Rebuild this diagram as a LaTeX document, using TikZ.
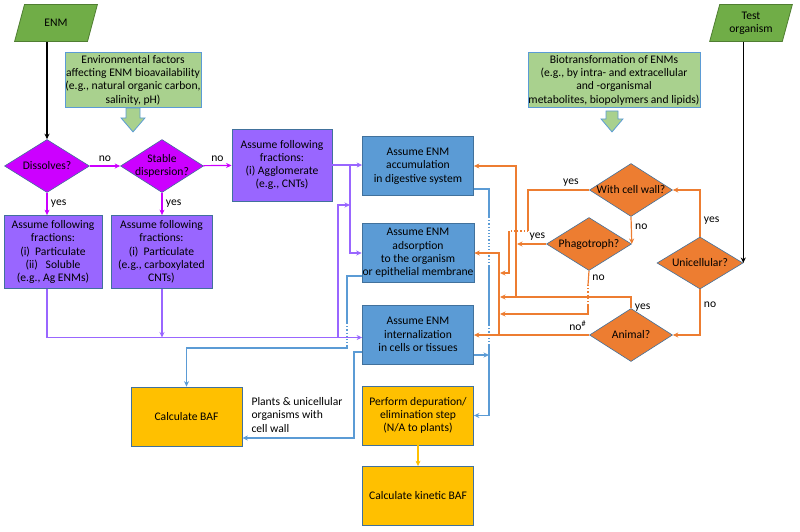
\documentclass[tikz,border=0pt]{standalone}
\usepackage{fontspec}
\setmainfont{Carlito}
\usetikzlibrary{positioning, arrows.meta, shapes.geometric}

\definecolor{leaf}{HTML}{70AD47}
\definecolor{leafline}{HTML}{507E32}
\definecolor{envfill}{HTML}{A9D18E}
\definecolor{rim}{HTML}{41719C}
\definecolor{mag}{HTML}{CC00FF}
\definecolor{purp}{HTML}{9966FF}
\definecolor{blu}{HTML}{5B9BD5}
\definecolor{orn}{HTML}{ED7D31}
\definecolor{yel}{HTML}{FFC000}

\begin{document}
\begin{tikzpicture}[x=1pt, y=-1pt, font=\fontsize{11.6}{13.3}\selectfont,
    para/.style={trapezium, trapezium left angle=64, trapezium right angle=116,
        trapezium stretches=true, draw=leafline, fill=leaf, line width=0.8pt,
        minimum width=83pt, minimum height=37pt, align=center, inner sep=0pt},
    envbox/.style={draw=blu, fill=envfill, line width=0.8pt, align=center,
        minimum height=55pt, inner sep=0.5pt},
    ask/.style={diamond, draw=rim, line width=0.6pt, align=center, aspect=1.6,
        inner sep=-5pt, minimum width=84pt, minimum height=53pt},
    stepbox/.style={draw=rim, line width=0.8pt, align=center, inner sep=0.5pt,
        minimum width=111pt, minimum height=59pt},
    fracbox/.style={stepbox, fill=purp, minimum width=99pt, minimum height=73pt},
    flow/.style={-{Stealth[length=5.5pt, width=5pt]}},
    link/.style={line width=1.2pt}]
\useasboundingbox (0,0) rectangle (800,531);

% inputs
\node[para] (enm) at (56,23) {ENM};
\node[para, trapezium left angle=73, trapezium right angle=107] (test) at (751,23) {Test\\organism};
\node[envbox, minimum width=134pt] (env) at (133,80) {Environmental factors\\affecting ENM bioavailability\\(e.g., natural organic carbon,\\salinity, pH)};
\node[envbox, minimum width=172pt] (bio) at (614,80) {Biotransformation of ENMs\\(e.g., by intra- and extracellular\\and -organismal\\metabolites, biopolymers and lipids)};
\draw[draw=blu, fill=envfill, line width=0.8pt] ([xshift=-4pt]env.south) ++(-3,0) -- ++(0,10) -- ++(-5,0)
    -- ++(12,14) -- ++(12,-14) -- ++(-5,0) -- ++(0,-10) -- cycle;
\draw[draw=blu, fill=envfill, line width=0.8pt] ([xshift=-2pt]bio.south) ++(-6,3) -- ++(0,8) -- ++(-5,0)
    -- ++(11,13) -- ++(11,-13) -- ++(-5,0) -- ++(0,-8) -- cycle;

% dissolution branch
\node[ask, fill=mag, minimum width=85pt] (dis) at (47,166) {Dissolves?};
\node[ask, fill=mag, minimum width=83pt] (stab) at (162,166) {Stable\\dispersion?};
\node[fracbox, minimum width=100pt, minimum height=72pt] (aggl) at (282,165) {Assume following\\fractions:\\(i) Agglomerate\\(e.g., CNTs)};
\node[fracbox, minimum width=98pt] (part) at (53,252) {Assume following\\fractions:\\(i)\ \ Particulate\\(ii)\ \ \ Soluble\\(e.g., Ag ENMs)};
\node[fracbox, minimum width=101pt] (carb) at (161.5,252) {Assume following\\fractions:\\(i)\ \ Particulate\\(e.g., carboxylated\\CNTs)};

% uptake routes
\node[stepbox, fill=blu] (acc) at (418,166) {Assume ENM\\accumulation\\in digestive system};
\node[stepbox, fill=blu] (ads) at (418,253) {Assume ENM\\adsorption\\to the organism\\or epithelial membrane};
\node[stepbox, fill=blu] (int) at (418,334.5) {Assume ENM\\internalization\\in cells or tissues};
\node[stepbox, fill=yel] (dep) at (418,415.5) {Perform depuration/\\elimination step\\(N/A to plants)};
\node[stepbox, fill=yel] (kin) at (418,496) {Calculate kinetic BAF};
\node[stepbox, fill=yel] (baf) at (186.5,416.5) {Calculate BAF};

% organism questions
\node[ask, fill=orn, minimum width=83pt] (wall) at (631,190) {With cell wall?};
\node[ask, fill=orn, minimum width=85pt] (phag) at (589,244) {Phagotroph?};
\node[ask, fill=orn, minimum width=86pt, minimum height=52pt] (uni) at (700,263) {Unicellular?};
\node[ask, fill=orn, minimum width=83pt] (ani) at (631,335) {Animal?};

\draw[link, flow] (dis.north |- enm.south) -- (dis.north);
\draw[link, flow] (uni.east |- test.south) -- (uni.east);

% purple links
\draw[link, flow, mag] (dis) -- node[above, black]{no} (stab);
\draw[link, flow, mag] (stab) -- node[above, black]{no} (aggl);
\draw[link, flow, mag] (dis.south) -- node[right, black]{yes} (dis.south |- part.north);
\draw[link, flow, mag] (stab.south) -- node[right, black]{yes} (stab.south |- carb.north);
\coordinate (pin) at ([yshift=-3pt]int.west);
\coordinate (split) at (350,165);
\coordinate (back) at (338,205);
\draw[link, flow, purp] (dis.south |- part.south) -- (dis.south |- pin) -- (pin);
\draw[link, flow, purp] (stab.south |- carb.south) -- (stab.south |- pin);
\draw[link, flow, purp] (aggl.east) -- (aggl.east -| acc.west);
\draw[link, flow, purp] (split) |- (ads.west);
\draw[link, flow, purp] (back |- pin) -- (back) -- (back -| split);

% blue links
\draw[link, blu] ([yshift=-23pt]acc.east) -| (489,217);
\draw[link, blu, dotted] (489,217) -- (489,265);
\draw[link, blu] (489,265) -- (489,325);
\draw[link, blu, dotted] (489,325) -- (489,345);
\draw[link, flow, blu] (489,345) |- (dep.east);
\draw[link, flow, blu] ([yshift=-20.5pt]int.east) -- (489,355);
\draw[link, blu] ([yshift=-23pt]ads.west) -| (347,323);
\draw[link, blu, dotted] (347,323) -- (347,345);
\draw[link, flow, blu] (347,345) |- (baf.north |- 0,348) -- (baf.north);
\draw[link, flow, blu] ([yshift=-17.5pt]int.west) -| (354,438) -- (baf.east |- 0,438);
\node[align=left, anchor=north west] (note) at (248,394) {Plants \& unicellular\\organisms with\\cell wall};
\draw[link, flow, yel] (dep) -- (kin);

% orange links
\draw[link, flow, orn] (uni.north) |- node[pos=0.17, right, black]{yes} (wall.east);
\draw[link, flow, orn] (uni.south) |- node[pos=0.17, right, black]{no} (ani.east);
\draw[link, flow, orn] (wall.south) -- node[pos=0.35, right, black]{no} (phag.east);
\draw[link, orn] (wall.west) -- node[pos=0.3, above, black]{yes} (528,190) -- (528,231);
\draw[link, orn, dotted] (528,231) -- (509,231);
\draw[link, flow, orn] (509,231) |- (500,273);
\draw[link, flow, orn] (phag.west) -- node[pos=0.3, above, black]{yes} (517,244);
\draw[link, orn] (phag.south) -- node[right, black]{no} (588,285);
\draw[link, orn, dotted] (588,285) -- (588,305);
\draw[link, flow, orn] (588,305) |- (500,314);
\draw[link, flow, orn] (ani.north) |- node[pos=0.04, right, black]{yes} (500,297);
\draw[link, flow, orn] (516,297) |- (acc.east);
\draw[link, flow, orn] (499,335) |- (ads.east);
\draw[link, flow, orn] (ani.west) -- node[pos=0.1, above, black]{no\textsuperscript{\#}} (int.east |- ani.west);
\end{tikzpicture}
\end{document}
